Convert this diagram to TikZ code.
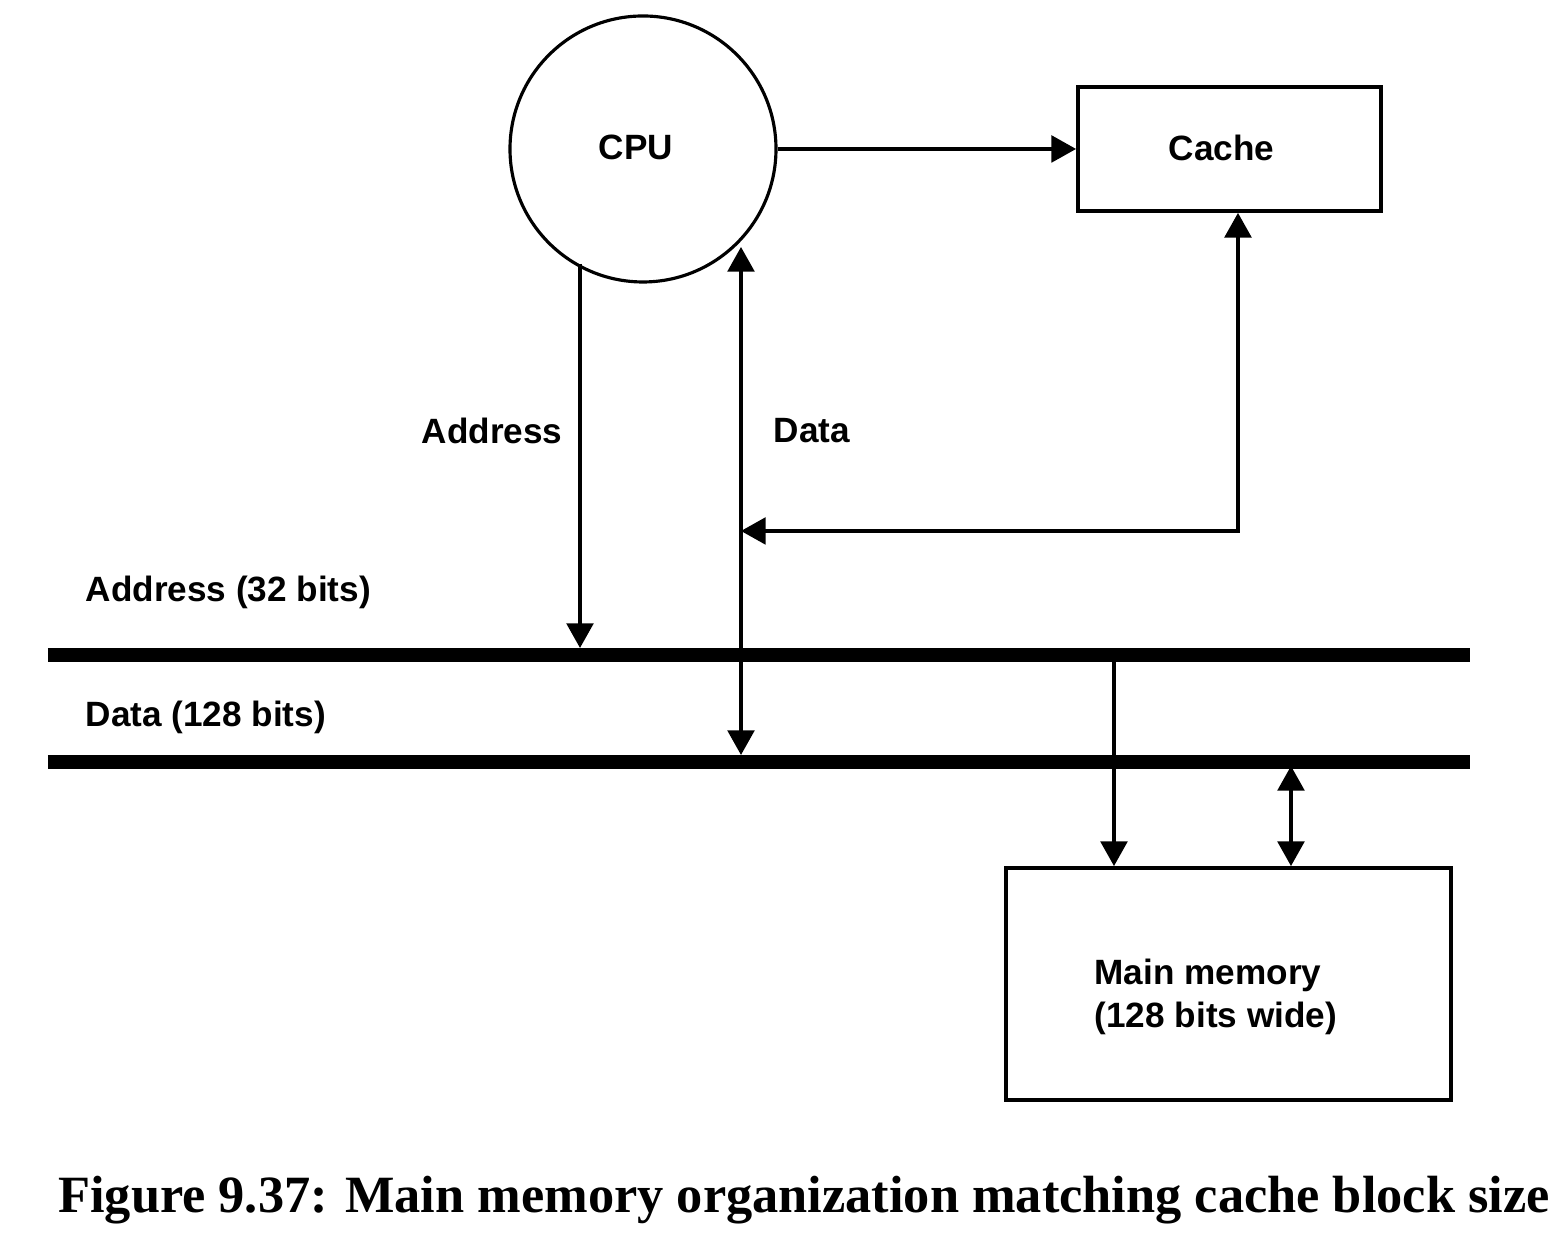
\documentclass[tikz,border=0pt]{standalone}
\usepackage{fontspec}
\setsansfont{Liberation Sans}
\newfontfamily\capfont{Liberation Serif}
\usetikzlibrary{arrows.meta,positioning}

\tikzset{
	lbl/.style={font=\sffamily\bfseries\fontsize{10}{12}\selectfont, inner sep=0pt},
	unit/.style={draw, line width=1.1pt, inner sep=0pt, lbl},
	wire/.style={line width=0.9pt, -{Triangle[length=7pt,width=7.6pt]}},
	twoway/.style={line width=0.9pt, {Triangle[length=7pt,width=7.6pt]}-{Triangle[length=7pt,width=7.6pt]}},
	bus/.style={line width=4pt, line cap=butt}
}

\begin{document}
\begin{tikzpicture}
	\useasboundingbox (0,0) rectangle (15.66,12.42);
	
	\node[unit, circle, line width=0.9pt, minimum size=2.66cm] (cpu) at (6.43,10.93) {\raisebox{0.03cm}{CPU}\hspace*{0.14cm}};
	\node[unit, minimum width=3.03cm, minimum height=1.24cm] (cache) at (12.295,10.93) {\raisebox{0.03cm}{Cache}\hspace*{0.16cm}};
	\node[unit, minimum width=4.45cm, minimum height=2.32cm] (mem) at (12.285,2.58) {};
	\node[lbl, align=left, anchor=west] (memtext) at (10.94,2.45) {Main memory\\(128 bits wide)};
	
	% buses
	\coordinate (abl) at (0.48,5.87);
	\coordinate (abr) at (14.70,5.87);
	\coordinate (dbl) at (0.48,4.80);
	\coordinate (dbr) at (14.70,4.80);
	\draw[bus] (abl) -- (abr);
	\draw[bus] (dbl) -- (dbr);
	
	\node[lbl, anchor=west] (abus) at (0.85,6.50) {Address (32 bits)};
	\node[lbl, anchor=west] (dbus) at (0.85,5.25) {Data (128 bits)};
	
	% cpu side
	\coordinate (atop) at (5.80,9.78);
	\coordinate (abot) at (5.80,5.94);
	\coordinate (dtop) at (7.41,9.95);
	\coordinate (dbot) at (7.41,4.87);
	\coordinate (dmid) at (7.41,7.11);
	\draw[wire] (cpu.east) -- (cache.west);
	\draw[wire] (atop) -- (abot);
	\draw[twoway] (dtop) -- (dbot);
	
	\node[lbl] (alabel) at (4.92,8.11) {Address};
	\node[lbl, anchor=west] (dlabel) at (7.73,8.11) {Data};
	
	% cache to data
	\draw[twoway] (cache.south -| 12.38,0) |- (dmid);
	
	% memory side
	\coordinate (mat) at (11.14,5.87);
	\coordinate (mdt) at (12.91,4.76);
	\draw[wire] (mat) -- (mat |- mem.north);
	\draw[twoway] (mdt) -- (mdt |- mem.north);
	
	\node[font=\capfont\bfseries\fontsize{14.9}{18}\selectfont, inner sep=0pt] (caption) at (8.04,0.42) {Figure 9.37: Main memory organization matching cache block size};
	
\end{tikzpicture}
\end{document}
